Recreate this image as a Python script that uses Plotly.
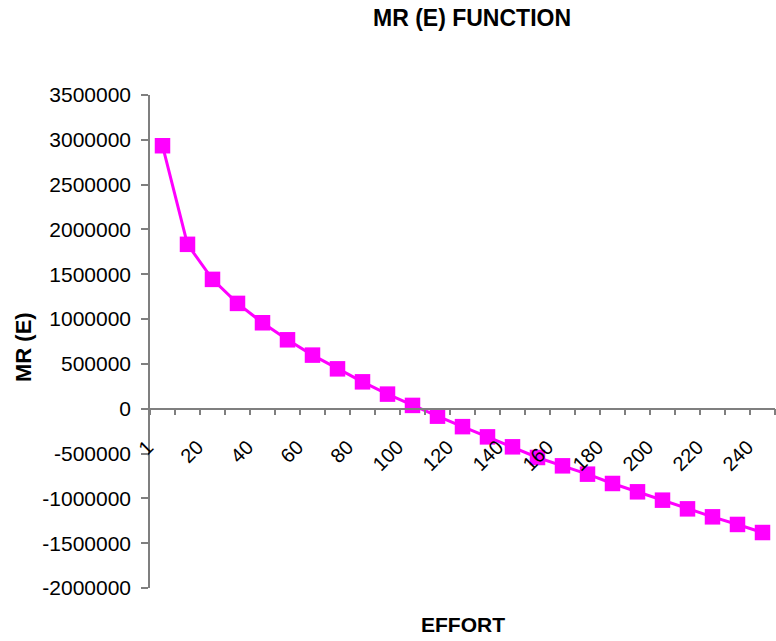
import plotly.graph_objects as go

# Effort levels (category axis) and marginal revenue at each level
effort = ["1", "10", "20", "30", "40", "50", "60", "70", "80", "90", "100",
          "110", "120", "130", "140", "150", "160", "170", "180", "190",
          "200", "210", "220", "230", "240"]
mr_values = [2934000, 1834000, 1443000, 1175000, 959000, 769000, 598000,
             445000, 300000, 163000, 37000, -83000, -200000, -314000,
             -425000, -544000, -637000, -730000, -834000, -927000,
             -1020000, -1117000, -1206000, -1291000, -1381000]

y_min, y_max, y_step = -2000000, 3500000, 500000
y_ticks = list(range(y_min, y_max + 1, y_step))
# only every other category gets a printed label
x_labels = [c if i % 2 == 0 else "" for i, c in enumerate(effort)]

FONT = "Arial, Liberation Sans, sans-serif"
AXIS_GRAY = "#7f7f7f"

fig = go.Figure(
    go.Scatter(
        x=effort,
        y=mr_values,
        mode="lines+markers",
        line=dict(color="#ff00ff", width=3),
        marker=dict(symbol="square", size=15.5, color="#ff00ff"),
        showlegend=False,
    )
)

fig.update_layout(
    width=776,
    height=641,
    margin=dict(l=150, r=1, t=95, b=53),
    paper_bgcolor="white",
    plot_bgcolor="white",
    font=dict(family=FONT, color="black"),
    xaxis=dict(
        type="category",
        categoryorder="array",
        categoryarray=effort,
        tickmode="array",
        tickvals=effort,
        ticktext=x_labels,
        tickson="boundaries",
        tickangle=-45,
        ticks="outside",
        ticklen=6,
        tickcolor=AXIS_GRAY,
        tickwidth=1.5,
        ticklabelstandoff=18,
        ticklabelshift=-15,
        showline=True,
        linecolor=AXIS_GRAY,
        linewidth=1.5,
        showgrid=False,
        zeroline=False,
        anchor="free",
        # x axis crosses the value axis at zero
        position=(0 - y_min) / (y_max - y_min),
        tickfont=dict(size=20, family=FONT),
        range=[-0.5, len(effort) - 0.5],
    ),
    yaxis=dict(
        range=[y_min, y_max],
        tickmode="array",
        tickvals=y_ticks,
        ticktext=[str(v) for v in y_ticks],
        ticks="outside",
        ticklen=7,
        tickcolor=AXIS_GRAY,
        tickwidth=1.5,
        ticklabelstandoff=6,
        showline=True,
        linecolor=AXIS_GRAY,
        linewidth=1.5,
        showgrid=False,
        zeroline=False,
        tickfont=dict(size=21, family=FONT),
    ),
    annotations=[
        dict(text="<b>MR (E) FUNCTION</b>", x=472, y=641 - 18,
             xref="paper", yref="paper", showarrow=False,
             font=dict(size=23, family=FONT)),
        dict(text="<b>EFFORT</b>", x=463, y=641 - 624,
             xref="paper", yref="paper", showarrow=False,
             font=dict(size=21, family=FONT)),
        dict(text="<b>MR (E)</b>", x=23, y=641 - 347, textangle=-90,
             xref="paper", yref="paper", showarrow=False,
             font=dict(size=22, family=FONT)),
    ],
)

# convert annotation pixel positions to paper fractions
plot_w = 776 - 150 - 1
plot_h = 641 - 95 - 53
for ann in fig.layout.annotations:
    ann.x = (ann.x - 150) / plot_w
    ann.y = (ann.y - 53) / plot_h
    ann.xanchor = "center"
    ann.yanchor = "middle"

fig.write_html("out.html")
